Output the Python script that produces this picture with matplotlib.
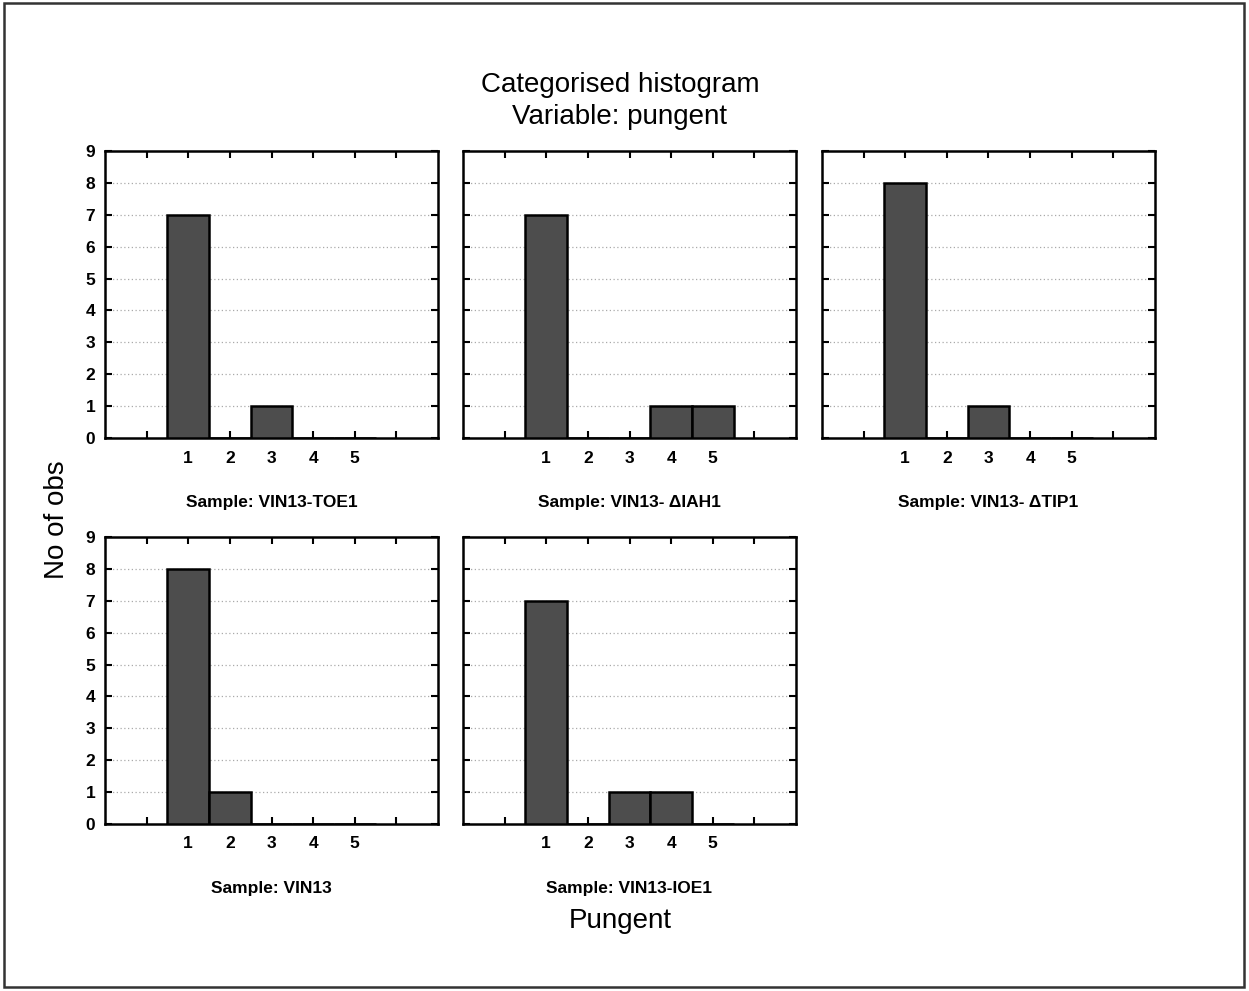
import numpy as np
import matplotlib.pyplot as plt
from matplotlib.patches import Rectangle

plt.rcParams['font.family'] = ['Liberation Sans', 'DejaVu Sans']

# counts of observations per pungency score (1..5) for each sample
scores = [1, 2, 3, 4, 5]
samples = ['Sample: VIN13-TOE1', 'Sample: VIN13- \u0394IAH1', 'Sample: VIN13- \u0394TIP1',
           'Sample: VIN13', 'Sample: VIN13-IOE1']
toe1 = [7, 0, 1, 0, 0]
iah1 = [7, 0, 0, 1, 1]
tip1 = [8, 0, 1, 0, 0]
vin13 = [8, 1, 0, 0, 0]
ioe1 = [7, 0, 1, 1, 0]
counts = [toe1, iah1, tip1, vin13, ioe1]

W, H = 1249, 991
fig = plt.figure(figsize=(W / 100, H / 100), dpi=100)
fig.patch.set_facecolor('white')
fig.add_artist(Rectangle((4 / W, 4 / H), 1 - 9 / W, 1 - 7 / H, transform=fig.transFigure,
                         fill=False, edgecolor='#333333', linewidth=1.8))

lefts = [105, 463, 822, 105, 463]
tops = [151, 151, 151, 537, 537]
aw, ah = 333, 287

for i in range(5):
    ax = fig.add_axes([lefts[i] / W, 1 - (tops[i] + ah) / H, aw / W, ah / H])
    ax.bar(scores, counts[i], width=1.0, color='#4d4d4d', edgecolor='black',
           linewidth=1.8, zorder=3)
    ax.set_xlim(-1, 7)
    ax.set_ylim(0, 9)
    ax.set_xticks(range(0, 7))
    ax.set_xticklabels([''] + [str(s) for s in scores] + [''])
    ax.set_yticks(range(0, 10))
    if lefts[i] == 105:
        ax.set_yticklabels([str(v) for v in range(10)])
    else:
        ax.set_yticklabels([])
    ax.tick_params(direction='in', length=5, width=1.5, top=True, right=True,
                   labelsize=12.5, pad=9)
    ax.tick_params(axis='y', pad=7)
    for lab in ax.get_xticklabels() + ax.get_yticklabels():
        lab.set_fontweight('bold')
    for y in range(1, 9):
        ax.axhline(y, color='#aaaaaa', linestyle=(0, (1, 2)), linewidth=0.9, zorder=1)
    for s in ax.spines.values():
        s.set_linewidth(1.8)
    ax.text(0.5, -0.225, samples[i], transform=ax.transAxes, ha='center', va='center',
            fontsize=12.5, fontweight='bold')

fig.text(620 / W, 1 - 85 / H, 'Categorised histogram', ha='center', va='center', fontsize=20)
fig.text(620 / W, 1 - 117 / H, 'Variable: pungent', ha='center', va='center', fontsize=20)
fig.text(620 / W, 1 - 921 / H, 'Pungent', ha='center', va='center', fontsize=20)
fig.text(57 / W, 1 - 520 / H, 'No of obs', ha='center', va='center', fontsize=20, rotation=90)

fig.savefig('out.png', dpi=100)
